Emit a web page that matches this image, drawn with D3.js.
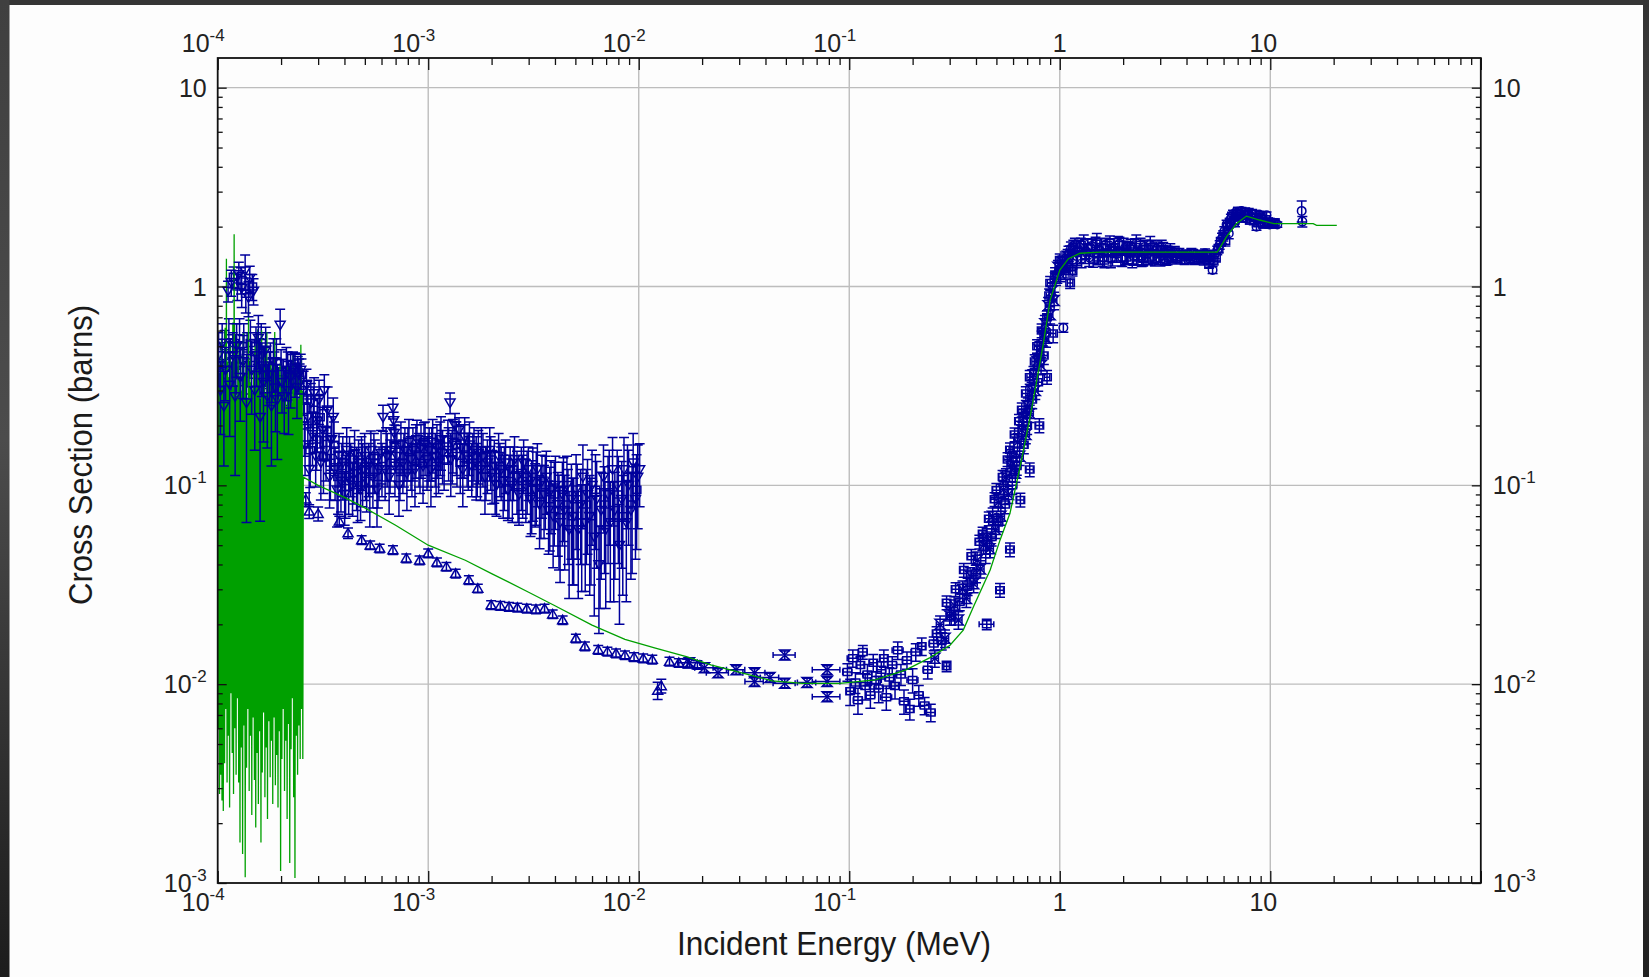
<!DOCTYPE html>
<html>
<head>
<meta charset="utf-8">
<script src="https://cdn.jsdelivr.net/npm/d3@7"></script>
<style>
  html, body { margin: 0; padding: 0; background: #fdfdfd; }
  svg { display: block; }
  text { font-family: "Liberation Sans", Arial, Helvetica, sans-serif; }
</style>
</head>
<body>
<svg id="chart" width="1649" height="977"></svg>
<script>
// ---------------------------------------------------------------
// Axis ticks and labels
// ---------------------------------------------------------------
const xTickValues = [1e-4, 1e-3, 1e-2, 1e-1, 1, 10];
const xTickBase   = ["10", "10", "10", "10", "1", "10"];
const xTickExp    = ["-4", "-3", "-2", "-1", "", ""];
const yTickValues = [1e-3, 1e-2, 1e-1, 1, 10];
const yTickBase   = ["10", "10", "10", "1", "10"];
const yTickExp    = ["-3", "-2", "-1", "", ""];
const xGridValues = [1e-3, 1e-2, 1e-1, 1, 10];
const yGridValues = [1e-2, 1e-1, 1, 10];

// ---------------------------------------------------------------
// Evaluated cross section (green curve)
// resolved resonance region: [energy (keV), cross section (b)]
// ---------------------------------------------------------------
const resonanceRows = [
  [0.1000,0.32],[0.1006,0.006],[0.1013,0.45],[0.1020,0.0028],[0.1027,0.28],[0.1034,0.0035],
  [0.1041,0.55],[0.1048,0.0026],[0.1056,0.38],[0.1063,0.0023],[0.1070,0.30],[0.1078,0.004],
  [0.1085,0.62],[0.1093,0.0075],[0.1100,1.38],[0.1108,0.0032],[0.1116,0.42],[0.1124,0.0055],
  [0.1131,0.35],[0.1139,0.0024],[0.1147,0.50],[0.1155,0.009],[0.1164,0.30],[0.1172,0.0045],
  [0.1180,0.66],[0.1189,0.0028],[0.1197,1.83],[0.1206,0.006],[0.1214,0.40],[0.1223,0.0035],
  [0.1232,0.28],[0.1241,0.0085],[0.1249,0.52],[0.1258,0.0032],[0.1267,0.34],[0.1276,0.0016],
  [0.1286,0.45],[0.1295,0.0048],[0.1304,0.30],[0.1313,0.0014],[0.1323,0.58],[0.1332,0.0062],
  [0.1342,0.36],[0.1351,0.00107],[0.1361,0.42],[0.1371,0.0038],[0.1381,0.27],[0.1391,0.0075],
  [0.1401,0.79],[0.1411,0.0029],[0.1421,0.33],[0.1431,0.0055],[0.1441,0.45],[0.1452,0.0022],
  [0.1462,0.29],[0.1473,0.0068],[0.1483,0.38],[0.1494,0.0033],[0.1505,0.50],[0.1516,0.0019],
  [0.1526,0.31],[0.1537,0.0045],[0.1549,0.61],[0.1560,0.0025],[0.1571,0.36],[0.1582,0.0058],
  [0.1594,0.27],[0.1605,0.0016],[0.1617,0.60],[0.1628,0.0036],[0.1640,0.33],[0.1652,0.0072],
  [0.1664,0.44],[0.1676,0.0027],[0.1688,0.29],[0.1700,0.0048],[0.1712,0.59],[0.1724,0.0021],
  [0.1737,0.35],[0.1749,0.0065],[0.1762,0.30],[0.1775,0.0034],[0.1787,0.41],[0.1800,0.0052],
  [0.1813,0.26],[0.1826,0.0025],[0.1839,0.38],[0.1852,0.0068],[0.1866,0.59],[0.1879,0.0031],
  [0.1893,0.30],[0.1906,0.0044],[0.1920,0.34],[0.1934,0.0024],[0.1948,0.27],[0.1962,0.0058],
  [0.1976,0.41],[0.1990,0.00115],[0.2004,0.31],[0.2018,0.0042],[0.2033,0.36],[0.2047,0.0075],
  [0.2062,0.28],[0.2077,0.0029],[0.2092,0.33],[0.2107,0.0052],[0.2122,0.25],[0.2137,0.0021],
  [0.2152,0.40],[0.2168,0.0063],[0.2183,0.30],[0.2199,0.00126],[0.2215,0.37],[0.2231,0.0047],
  [0.2247,0.26],[0.2263,0.0085],[0.2279,0.45],[0.2295,0.0027],[0.2312,0.32],[0.2328,0.00106],
  [0.2345,0.29],[0.2362,0.0055],[0.2379,0.38],[0.2396,0.0035],[0.2413,0.27],[0.2430,0.0062],
  [0.2448,0.34],[0.2465,0.0042],[0.2483,0.51],[0.2501,0.0075],[0.2519,0.30],[0.2537,0.0042]
];
// unresolved / fast region: [energy (MeV), cross section (b)]
const smoothRows = [
  [2.55e-4,0.11],[3.0e-4,0.10],[4.0e-4,0.087],[5.0e-4,0.077],[7.0e-4,0.063],[1.0e-3,0.050],
  [1.5e-3,0.042],[2.0e-3,0.036],[3.0e-3,0.029],[4.0e-3,0.0248],[6.0e-3,0.0198],[8.6e-3,0.0168],
  [1.2e-2,0.0152],[1.7e-2,0.0137],[2.2e-2,0.0125],[2.9e-2,0.0116],[3.5e-2,0.0110],[4.3e-2,0.0104],
  [6.0e-2,0.0101],[9.0e-2,0.0101],[0.133,0.0105],[0.186,0.0118],[0.242,0.0136],[0.301,0.0157],
  [0.348,0.0187],[0.389,0.0245],[0.467,0.0375],[0.52,0.053],[0.58,0.0723],[0.648,0.124],
  [0.723,0.221],[0.778,0.338],[0.836,0.517],[0.90,0.855],[1.0,1.21],[1.1,1.38],[1.25,1.47],
  [1.55,1.49],[3.7,1.49],[5.6,1.49],[6.2,1.78],[6.9,2.07],[7.7,2.26],[8.9,2.16],[10.4,2.07],
  [16.0,2.07],[16.6,2.03],[20.7,2.03]
];

// ---------------------------------------------------------------
// Measurements: [energy (MeV), cross section (b), rel. unc. σ, (rel. half-width E)]
// ---------------------------------------------------------------
const resonanceMeasA = [
  [1.01e-4,0.45,.30],[1.03e-4,0.30,.40],[1.05e-4,0.52,.25],[1.07e-4,0.25,.50],[1.09e-4,0.38,.30],
  [1.12e-4,0.95,.12],[1.14e-4,0.32,.45],[1.16e-4,1.05,.15],[1.18e-4,0.45,.30],[1.21e-4,0.28,.60],
  [1.23e-4,0.50,.30],[1.26e-4,1.15,.15],[1.28e-4,0.35,.40],[1.30e-4,0.98,.20],[1.32e-4,0.42,.35],
  [1.35e-4,1.20,.20],[1.37e-4,0.26,.75],[1.40e-4,0.88,.20],[1.42e-4,1.10,.15],[1.45e-4,0.38,.40],
  [1.48e-4,0.95,.15],[1.50e-4,0.30,.50],[1.53e-4,0.45,.30],[1.56e-4,0.55,.30],[1.59e-4,0.22,.70],
  [1.62e-4,0.40,.30],[1.65e-4,0.33,.50],[1.69e-4,0.48,.30],[1.72e-4,0.28,.45],[1.76e-4,0.36,.30],
  [1.80e-4,0.25,.50],[1.84e-4,0.42,.30],[1.88e-4,0.31,.40],[1.92e-4,0.27,.50],[1.98e-4,0.64,.20],
  [2.02e-4,0.33,.30],[2.07e-4,0.28,.35],[2.12e-4,0.38,.30],[2.17e-4,0.30,.40],[2.22e-4,0.35,.30],
  [2.28e-4,0.39,.20],[2.33e-4,0.37,.25],[2.38e-4,0.31,.30],[2.43e-4,0.36,.20],[2.48e-4,0.38,.20]
];
const resonanceMeasB = [
  [1.02e-4,0.28,.30],[1.04e-4,0.40,.25],[1.06e-4,0.33,.30],[1.08e-4,0.50,.20],[1.10e-4,0.36,.30],
  [1.13e-4,0.55,.25],[1.15e-4,0.42,.30],[1.17e-4,0.30,.30],[1.19e-4,1.12,.12],[1.20e-4,0.52,.25],
  [1.22e-4,0.40,.30],[1.24e-4,1.00,.15],[1.25e-4,0.33,.35],[1.27e-4,0.55,.25],[1.29e-4,1.08,.15],
  [1.31e-4,0.38,.30],[1.33e-4,0.50,.30],[1.36e-4,0.92,.20],[1.38e-4,0.45,.30],[1.41e-4,0.30,.40],
  [1.43e-4,0.52,.30],[1.46e-4,1.00,.15],[1.49e-4,0.36,.30],[1.52e-4,0.50,.25],[1.55e-4,0.30,.35],
  [1.58e-4,0.42,.30],[1.61e-4,0.52,.25],[1.64e-4,0.28,.35],[1.67e-4,0.38,.30],[1.70e-4,0.45,.30],
  [1.74e-4,0.32,.30],[1.78e-4,0.40,.30],[1.82e-4,0.30,.35],[1.86e-4,0.36,.30],[1.90e-4,0.42,.30],
  [1.95e-4,0.30,.30],[2.00e-4,0.37,.30],[2.05e-4,0.33,.30],[2.10e-4,0.30,.30],[2.15e-4,0.36,.30],
  [2.20e-4,0.28,.30],[2.25e-4,0.34,.25],[2.30e-4,0.38,.20],[2.35e-4,0.33,.25],[2.40e-4,0.37,.20],
  [2.45e-4,0.34,.20],[2.50e-4,0.36,.20]
];

const cloudMeasA = [
  [2.56e-4,0.30,.25],[2.60e-4,0.16,.30],[2.64e-4,0.32,.20],[2.68e-4,0.22,.30],[2.72e-4,0.12,.35],
  [2.77e-4,0.26,.25],[2.82e-4,0.18,.30],[2.87e-4,0.29,.20],[2.92e-4,0.14,.30],[2.97e-4,0.21,.30],
  [3.03e-4,0.27,.25],[3.09e-4,0.13,.35],[3.15e-4,0.19,.30],[3.21e-4,0.30,.20],[3.27e-4,0.15,.30],
  [3.33e-4,0.24,.30],[3.40e-4,0.11,.30],[3.47e-4,0.17,.30],[3.54e-4,0.22,.25],
  [3.61e-4,0.12,.30],[3.69e-4,0.095,.35],[3.77e-4,0.14,.30],[3.85e-4,0.105,.30],[3.93e-4,0.13,.35],
  [4.01e-4,0.09,.30],[4.10e-4,0.15,.30],[4.19e-4,0.11,.35],[4.28e-4,0.125,.30],[4.37e-4,0.10,.30],
  [4.47e-4,0.145,.30],[4.57e-4,0.115,.35],[4.67e-4,0.13,.30],[4.77e-4,0.095,.30],[4.88e-4,0.12,.35],
  [4.99e-4,0.14,.30],[5.10e-4,0.105,.30],[5.22e-4,0.125,.30],[5.34e-4,0.15,.25],[5.46e-4,0.11,.30],
  [5.58e-4,0.13,.30],[5.71e-4,0.095,.35],[5.84e-4,0.12,.30],[5.97e-4,0.145,.30],
  [6.10e-4,0.22,.15],[6.24e-4,0.12,.30],[6.38e-4,0.14,.30],[6.52e-4,0.11,.35],[6.66e-4,0.15,.30],
  [6.80e-4,0.245,.12],[6.85e-4,0.212,.10],[6.90e-4,0.183,.10],[6.95e-4,0.125,.30],[7.10e-4,0.14,.30],
  [7.26e-4,0.10,.30],[7.42e-4,0.16,.30],[7.58e-4,0.13,.30],[7.75e-4,0.15,.30],[7.92e-4,0.115,.35],
  [8.10e-4,0.165,.30],[8.28e-4,0.135,.30],[8.46e-4,0.15,.30],[8.65e-4,0.12,.35],[8.84e-4,0.17,.25],
  [9.04e-4,0.14,.30],[9.24e-4,0.155,.30],[9.45e-4,0.125,.35],[9.66e-4,0.16,.30],[9.87e-4,0.135,.30],
  [1.01e-3,0.15,.30],[1.03e-3,0.12,.35],[1.05e-3,0.165,.30],[1.08e-3,0.14,.30],[1.10e-3,0.155,.30],
  [1.12e-3,0.13,.30],[1.15e-3,0.17,.30],[1.17e-3,0.145,.30],[1.27e-3,0.26,.12],[1.25e-3,0.15,.30],
  [1.28e-3,0.135,.35],[1.31e-3,0.165,.30],[1.34e-3,0.20,.15],[1.37e-3,0.14,.30],[1.40e-3,0.19,.15],
  [1.43e-3,0.155,.30],[1.46e-3,0.12,.35],[1.49e-3,0.175,.25],
  [1.53e-3,0.14,.30],[1.57e-3,0.16,.30],[1.61e-3,0.125,.30],[1.65e-3,0.15,.30],[1.69e-3,0.13,.35],
  [1.73e-3,0.145,.30],[1.77e-3,0.12,.30],[1.82e-3,0.14,.30],[1.86e-3,0.11,.35],[1.91e-3,0.13,.30],
  [1.96e-3,0.15,.30],[2.01e-3,0.115,.30],[2.06e-3,0.125,.35],[2.11e-3,0.10,.30],[2.16e-3,0.14,.30],
  [2.22e-3,0.12,.30],[2.27e-3,0.105,.35],[2.33e-3,0.13,.30],[2.39e-3,0.095,.30],[2.45e-3,0.12,.30],
  [2.51e-3,0.10,.35],[2.57e-3,0.135,.30],[2.64e-3,0.11,.35],[2.70e-3,0.09,.30],[2.77e-3,0.115,.35],
  [2.84e-3,0.13,.30],[2.91e-3,0.10,.35],[2.99e-3,0.12,.30],[3.06e-3,0.085,.35],[3.14e-3,0.11,.40],
  [3.22e-3,0.095,.35],[3.30e-3,0.12,.35],[3.38e-3,0.08,.40],[3.47e-3,0.105,.35],[3.55e-3,0.09,.40],
  [3.64e-3,0.11,.35],[3.73e-3,0.075,.40],
  [3.83e-3,0.095,.40],[3.92e-3,0.07,.45],[4.02e-3,0.10,.40],[4.13e-3,0.08,.45],[4.23e-3,0.065,.50],
  [4.34e-3,0.09,.45],[4.45e-3,0.075,.50],[4.56e-3,0.10,.40],[4.67e-3,0.06,.55],[4.79e-3,0.085,.50],
  [4.91e-3,0.07,.55],[5.04e-3,0.095,.50],[5.16e-3,0.06,.55],[5.30e-3,0.08,.50],[5.43e-3,0.11,.45],
  [5.57e-3,0.065,.55],[5.71e-3,0.09,.50],[5.85e-3,0.07,.60],[6.00e-3,0.10,.50],[6.15e-3,0.055,.60],
  [6.31e-3,0.085,.55],[6.47e-3,0.04,.55],[6.63e-3,0.075,.55],[6.80e-3,0.11,.45],[6.97e-3,0.06,.60],
  [7.15e-3,0.09,.55],[7.33e-3,0.065,.60],[7.51e-3,0.12,.45],[7.70e-3,0.075,.55],[7.90e-3,0.10,.50],
  [8.10e-3,0.05,.60],[8.30e-3,0.085,.55],[8.51e-3,0.12,.45],[8.73e-3,0.065,.60],[8.95e-3,0.10,.50],
  [9.18e-3,0.075,.55],[9.41e-3,0.13,.40],[9.65e-3,0.085,.50],[9.89e-3,0.11,.45],[1.01e-2,0.12,.35]
];
const cloudMeasB = [
  [2.58e-4,0.20,.30],[2.66e-4,0.27,.25],[2.75e-4,0.15,.35],[2.85e-4,0.24,.30],[2.95e-4,0.17,.30],
  [3.06e-4,0.22,.30],[3.18e-4,0.14,.35],[3.30e-4,0.19,.30],[3.43e-4,0.13,.35],[3.57e-4,0.16,.30],
  [3.73e-4,0.11,.35],[3.89e-4,0.125,.30],[4.05e-4,0.105,.35],[4.23e-4,0.135,.30],[4.42e-4,0.115,.30],
  [4.62e-4,0.10,.35],[4.82e-4,0.135,.30],[5.04e-4,0.12,.30],[5.28e-4,0.095,.35],[5.52e-4,0.14,.30],
  [5.77e-4,0.11,.30],[6.03e-4,0.125,.30],[6.31e-4,0.15,.30],[6.59e-4,0.13,.30],[7.02e-4,0.16,.25],
  [7.34e-4,0.12,.30],[7.67e-4,0.14,.30],[8.01e-4,0.15,.30],[8.37e-4,0.125,.30],[8.74e-4,0.155,.30],
  [9.14e-4,0.13,.30],[9.55e-4,0.165,.25],[9.98e-4,0.14,.30],[1.04e-3,0.15,.30],[1.09e-3,0.125,.30],
  [1.14e-3,0.16,.30],[1.19e-3,0.135,.30],[1.24e-3,0.17,.25],[1.30e-3,0.145,.30],[1.36e-3,0.16,.30],
  [1.42e-3,0.13,.30],[1.48e-3,0.155,.30],[1.55e-3,0.135,.30],[1.63e-3,0.14,.30],[1.71e-3,0.125,.30],
  [1.79e-3,0.15,.30],[1.88e-3,0.12,.30],[1.98e-3,0.135,.30],[2.08e-3,0.11,.35],[2.19e-3,0.125,.30],
  [2.30e-3,0.115,.35],[2.42e-3,0.105,.35],[2.54e-3,0.12,.30],[2.67e-3,0.10,.35],[2.81e-3,0.105,.35],
  [2.95e-3,0.11,.35],[3.10e-3,0.095,.40],[3.26e-3,0.105,.40],[3.43e-3,0.09,.40],[3.60e-3,0.10,.40],
  [3.78e-3,0.085,.45],[3.97e-3,0.09,.45],[4.18e-3,0.075,.50],[4.39e-3,0.095,.45],[4.61e-3,0.08,.50],
  [4.85e-3,0.07,.55],[5.10e-3,0.085,.50],[5.36e-3,0.065,.55],[5.64e-3,0.08,.50],[5.93e-3,0.07,.55],
  [6.23e-3,0.095,.50],[6.55e-3,0.06,.60],[6.88e-3,0.08,.55],[7.24e-3,0.10,.50],[7.61e-3,0.065,.60],
  [8.00e-3,0.09,.55],[8.40e-3,0.07,.60],[8.84e-3,0.11,.45],[9.30e-3,0.08,.55],[9.77e-3,0.095,.50]
];

const lowMeas = [
  [2.62e-4,0.085,.08],[2.72e-4,0.074,.08],[3.0e-4,0.072,.08],[3.78e-4,0.066,.06],[4.16e-4,0.0575,.06],
  [4.83e-4,0.0531,.05],[5.3e-4,0.050,.05],[5.88e-4,0.0482,.05],[6.8e-4,0.0473,.05],[7.87e-4,0.043,.05],
  [9.1e-4,0.042,.05],[1.0e-3,0.0455,.05],[1.1e-3,0.041,.05],[1.22e-3,0.039,.05],[1.35e-3,0.036,.05],
  [1.56e-3,0.0334,.05],[1.72e-3,0.0303,.05],[1.99e-3,0.025,.05],[2.2e-3,0.0248,.05],[2.42e-3,0.0245,.05],
  [2.65e-3,0.0243,.05],[2.94e-3,0.024,.05],[3.25e-3,0.0238,.05],[3.57e-3,0.024,.05],[3.9e-3,0.0225,.05],
  [4.35e-3,0.021,.05],[5.03e-3,0.017,.05],[5.55e-3,0.0155,.05],[6.42e-3,0.0149,.05],[7.1e-3,0.0146,.05],
  [7.8e-3,0.0143,.05],[8.6e-3,0.014,.05],[9.5e-3,0.0137,.05],[1.05e-2,0.0135,.05],[1.16e-2,0.0133,.05],
  [1.23e-2,0.0093,.10],[1.28e-2,0.0098,.08],[1.4e-2,0.013,.05],[1.55e-2,0.0128,.05],[1.7e-2,0.0127,.05],
  [1.9e-2,0.0125,.05]
];

const minMeas = [
  [0.0174,0.0128,.05,.12],[0.0205,0.0121,.05,.10],[0.0238,0.0114,.05,.12],[0.029,0.0118,.05,.10],
  [0.0355,0.0114,.05,.12],[0.0355,0.0103,.05,.10],[0.042,0.0108,.05,.10],[0.0494,0.0140,.05,.12],
  [0.0494,0.0101,.05,.12],[0.063,0.0102,.05,.10],[0.0785,0.0118,.05,.15],[0.0785,0.0103,.05,.15],
  [0.0785,0.00865,.05,.15]
];

const riseMeasA = [
  [0.098,0.0115,.10,.05],[0.101,0.0092,.15,.04],[0.104,0.0135,.10,.06],[0.107,0.0102,.12,.05],
  [0.110,0.0083,.15,.05],[0.113,0.0125,.10,.04],[0.116,0.0145,.08,.05],[0.119,0.0098,.15,.06],
  [0.122,0.0112,.12,.05],[0.126,0.0088,.14,.05],[0.130,0.0128,.10,.04],[0.134,0.0105,.10,.06],
  [0.138,0.0095,.15,.05],[0.142,0.0118,.10,.05],[0.146,0.0135,.10,.04],[0.150,0.0086,.14,.06],
  [0.155,0.0108,.12,.05],[0.160,0.0125,.10,.05],[0.165,0.0098,.14,.04],[0.170,0.0148,.10,.06],
  [0.176,0.0112,.12,.05],[0.182,0.0082,.14,.05],[0.188,0.0132,.10,.05],[0.194,0.0075,.12,.04],
  [0.200,0.0105,.14,.06],[0.207,0.0145,.10,.05],[0.214,0.0088,.12,.05],[0.221,0.0155,.10,.04],
  [0.228,0.0078,.10,.05],[0.236,0.0118,.10,.05],[0.244,0.0072,.10,.05],[0.252,0.0160,.08,.05],
  [0.26,0.018,.08,.04],[0.275,0.0165,.10,.05],[0.29,0.0123,.06,.03],[0.29,0.0257,.08,.04],
  [0.305,0.022,.10,.05],[0.32,0.030,.08,.04],[0.335,0.026,.10,.05],[0.35,0.0375,.08,.04],
  [0.365,0.031,.10,.05],[0.38,0.044,.08,.04],[0.40,0.036,.10,.05],[0.415,0.052,.08,.04],
  [0.43,0.057,.08,.04],[0.45,0.020,.06,.08],[0.445,0.045,.10,.05],[0.46,0.068,.08,.04],
  [0.475,0.055,.10,.05],[0.49,0.085,.08,.04],[0.50,0.0945,.08,.04],[0.51,0.065,.10,.05],
  [0.52,0.0297,.08,.04],[0.535,0.11,.08,.04],[0.55,0.08,.10,.05],[0.565,0.135,.08,.04],
  [0.58,0.151,.08,.04],[0.58,0.0475,.08,.04],[0.595,0.10,.10,.05],[0.61,0.18,.08,.04],
  [0.625,0.125,.10,.04],[0.64,0.21,.08,.04],[0.65,0.0845,.08,.04],[0.66,0.24,.08,.04],
  [0.675,0.16,.10,.04],[0.69,0.29,.08,.04],[0.70,0.20,.10,.04],[0.72,0.35,.08,.03],
  [0.72,0.12,.08,.04],[0.74,0.27,.10,.04],[0.76,0.42,.08,.03],[0.78,0.50,.08,.03],
  [0.79,0.33,.10,.04],[0.80,0.20,.08,.04],[0.82,0.60,.08,.03],[0.84,0.45,.10,.04],
  [0.87,0.70,.08,.03],[0.87,0.35,.08,.03],[0.89,0.90,.08,.03],[0.90,1.04,.08,.03],
  [0.93,0.58,.10,.03],[0.95,1.15,.08,.03],[1.0,1.36,.07,.03],[1.07,1.20,.08,.03],
  [1.12,1.04,.06,.03],[1.15,1.20,.06,.03]
];
const riseMeasB = [
  [0.255,0.0135,.10,.04],[0.27,0.020,.10,.04],[0.285,0.017,.10,.04],[0.30,0.022,.10,.04],
  [0.315,0.025,.10,.04],[0.33,0.021,.10,.04],[0.345,0.030,.10,.04],[0.36,0.027,.10,.04],
  [0.375,0.035,.10,.04],[0.39,0.032,.10,.04],[0.405,0.042,.10,.04],[0.42,0.038,.10,.04],
  [0.435,0.050,.10,.04],[0.45,0.055,.10,.04],[0.465,0.048,.10,.04],[0.48,0.070,.10,.04],
  [0.495,0.060,.10,.04],[0.51,0.082,.10,.04],[0.525,0.070,.10,.04],[0.54,0.095,.10,.04],
  [0.555,0.11,.10,.04],[0.57,0.09,.10,.04],[0.585,0.125,.10,.04],[0.60,0.14,.10,.04],
  [0.615,0.115,.10,.04],[0.63,0.165,.10,.04],[0.645,0.14,.10,.04],[0.66,0.19,.10,.04],
  [0.675,0.22,.10,.04],[0.69,0.18,.10,.04],[0.705,0.25,.10,.04],[0.72,0.23,.10,.04],
  [0.735,0.30,.10,.04],[0.75,0.36,.10,.03],[0.765,0.30,.10,.03],[0.78,0.42,.10,.03],
  [0.80,0.48,.10,.03],[0.815,0.40,.10,.03],[0.83,0.56,.10,.03],[0.85,0.65,.10,.03],
  [0.86,0.55,.10,.03],[0.88,0.80,.10,.03],[0.90,0.72,.10,.03],[0.92,0.95,.10,.03],
  [0.94,0.85,.10,.03],[0.96,1.10,.08,.03],[0.98,1.25,.08,.03],[1.01,1.15,.08,.03],
  [1.03,1.32,.08,.03],[1.05,1.25,.08,.03],[1.09,1.42,.08,.03]
];

const plateauMeasA = [
  [1.02,1.25,.06],[1.04,0.62,.05],[1.06,1.38,.08],[1.08,1.30,.08],[1.10,1.45,.10],[1.13,1.55,.08],
  [1.15,1.36,.10],[1.18,1.62,.08],[1.21,1.42,.10],[1.24,1.58,.08],[1.27,1.38,.10],[1.30,1.65,.10],
  [1.34,1.50,.08],[1.38,1.40,.10],[1.42,1.60,.08],[1.46,1.46,.10],[1.50,1.68,.10],[1.55,1.52,.08],
  [1.60,1.40,.10],[1.65,1.62,.08],[1.70,1.48,.10],[1.75,1.38,.10],[1.80,1.58,.10],[1.86,1.46,.08],
  [1.92,1.64,.08],[1.98,1.40,.10],[2.04,1.56,.08],[2.10,1.48,.12],[2.17,1.60,.08],[2.24,1.42,.10],
  [2.31,1.65,.10],[2.38,1.48,.08],[2.45,1.40,.10],[2.53,1.58,.08],[2.61,1.46,.10],[2.69,1.62,.10],
  [2.78,1.42,.08],[2.87,1.55,.08],[2.96,1.40,.08],[3.05,1.58,.08],[3.15,1.48,.08],[3.25,1.40,.08],
  [3.35,1.52,.08],[3.46,1.43,.06],[3.57,1.38,.06],[3.70,1.48,.05],[3.85,1.42,.05],[4.00,1.45,.05],
  [4.15,1.38,.05],[4.30,1.46,.05],[4.45,1.40,.05],[4.60,1.44,.05],[4.75,1.38,.05],[4.90,1.47,.05],
  [5.05,1.41,.05],[5.20,1.36,.05],[5.32,1.21,.04],[5.45,1.45,.05],[5.60,1.52,.05],[5.75,1.62,.05],
  [5.90,1.75,.06],[6.05,1.90,.05],[6.20,2.05,.05],[6.35,1.85,.06],[6.50,2.20,.05],[6.65,2.30,.05],
  [6.80,2.10,.05],[6.95,2.35,.04],[7.10,2.25,.05],[7.30,2.40,.04],[7.50,2.30,.05],[7.70,2.20,.04],
  [7.90,2.35,.05],[8.10,2.25,.04],[8.35,2.15,.05],[8.60,2.00,.04],[8.85,2.30,.04],[9.10,2.20,.04],
  [9.40,2.10,.05],[9.60,2.28,.04],[9.90,2.05,.04],[10.3,2.10,.04],[10.8,2.05,.03]
];
const plateauMeasB = [
  [1.12,1.48,.08],[1.16,1.58,.08],[1.20,1.36,.08],[1.26,1.62,.08],[1.32,1.42,.08],[1.36,1.58,.10],
  [1.44,1.36,.08],[1.48,1.64,.08],[1.53,1.40,.08],[1.58,1.58,.10],[1.63,1.35,.08],[1.68,1.56,.08],
  [1.73,1.66,.08],[1.78,1.38,.08],[1.83,1.52,.08],[1.89,1.62,.10],[1.95,1.38,.08],[2.01,1.62,.08],
  [2.07,1.40,.08],[2.14,1.55,.08],[2.21,1.35,.08],[2.28,1.58,.10],[2.35,1.40,.08],[2.42,1.62,.08],
  [2.49,1.38,.08],[2.57,1.55,.10],[2.65,1.40,.08],[2.74,1.58,.08],[2.83,1.38,.08],[2.92,1.52,.08],
  [3.01,1.38,.08],[3.10,1.54,.08],[3.20,1.36,.06],[3.30,1.48,.06],[3.41,1.40,.06],[3.52,1.50,.06],
  [3.63,1.38,.05],[3.78,1.45,.05],[3.92,1.36,.05],[4.08,1.42,.05],[4.22,1.48,.05],[4.38,1.36,.05],
  [4.53,1.45,.05],[4.68,1.40,.05],[4.83,1.35,.05],[4.98,1.44,.05],[5.12,1.30,.05],[5.38,1.35,.05],
  [5.52,1.40,.05],[5.68,1.55,.05],[5.82,1.68,.05],[5.98,1.80,.06],[6.12,1.70,.06],[6.28,2.00,.05],
  [6.42,2.10,.05],[6.58,2.25,.05],[6.72,2.15,.05],[6.88,2.30,.05],[7.02,2.40,.04],[7.20,2.30,.05],
  [7.40,2.20,.04],[7.60,2.38,.04],[7.80,2.28,.05],[8.00,2.15,.04],[8.20,2.32,.05],[8.50,2.22,.04],
  [8.75,2.10,.05],[9.00,2.25,.04],[9.25,2.05,.04],[9.50,2.18,.04],[9.75,2.12,.04],[10.1,2.05,.04],
  [10.5,2.10,.04]
];

const highMeas = [[14.1,2.40,.12],[14.2,2.12,.06]];

// ---------------------------------------------------------------
// Layout and scales
// ---------------------------------------------------------------
const W = 1649, H = 977;
const plot = { left: 217.7, right: 1480.8, top: 58, bottom: 883 };
const BLUE = "#00009c", GREEN = "#00a000", INK = "#222";

const x = d3.scaleLog().domain([1e-4, 1e2]).range([plot.left, plot.right]);
const y = d3.scaleLog().domain([1e-3, 14.1]).range([plot.bottom, plot.top]);

const svg = d3.select("#chart");
const defs = svg.append("defs");

// page background with the dark edge strips
function edgeGradient(id, stops) {
  const g = defs.append("linearGradient").attr("id", id)
    .attr("x1", 0).attr("y1", 0).attr("x2", 0).attr("y2", 1);
  stops.forEach(([o, c]) => g.append("stop").attr("offset", o).attr("stop-color", c));
}
edgeGradient("edgeL", [[0, "#404040"], [0.45, "#4c4c4c"], [1, "#1c1c1c"]]);
edgeGradient("edgeR", [[0, "#333"], [0.45, "#5a5a5a"], [1, "#202020"]]);

svg.append("rect").attr("width", W).attr("height", H).attr("fill", "#fdfdfd");
svg.append("rect").attr("x", 0).attr("y", 0).attr("width", W).attr("height", 5).attr("fill", "#353535");
svg.append("rect").attr("x", 0).attr("y", 0).attr("width", 9.5).attr("height", H).attr("fill", "url(#edgeL)");
svg.append("rect").attr("x", 1643).attr("y", 0).attr("width", 6).attr("height", H).attr("fill", "url(#edgeR)");

defs.append("clipPath").attr("id", "plotClip").append("rect")
  .attr("x", plot.left).attr("y", plot.top)
  .attr("width", plot.right - plot.left).attr("height", plot.bottom - plot.top);

// grid
const grid = svg.append("g").attr("stroke", "#bdbdbd").attr("stroke-width", 1.4);
grid.selectAll("line.gx").data(xGridValues).join("line").attr("class", "gx")
  .attr("x1", d => x(d)).attr("x2", d => x(d)).attr("y1", plot.top).attr("y2", plot.bottom);
grid.selectAll("line.gy").data(yGridValues).join("line").attr("class", "gy")
  .attr("y1", d => y(d)).attr("y2", d => y(d)).attr("x1", plot.left).attr("x2", plot.right);

const data = svg.append("g").attr("clip-path", "url(#plotClip)");

// ---------------------------------------------------------------
// Markers and error bars
// ---------------------------------------------------------------
const S = 5;
function markerPath(kind, cx, cy) {
  switch (kind) {
    case "tdown":
      return `M${cx - S},${cy - S * 0.75}L${cx + S},${cy - S * 0.75}L${cx},${cy + S * 0.95}Z`;
    case "tup":
      return `M${cx - S},${cy + S * 0.75}L${cx + S},${cy + S * 0.75}L${cx},${cy - S * 0.95}Z`;
    case "square":
      return `M${cx - S * 0.85},${cy - S * 0.7}h${S * 1.7}v${S * 1.4}h${-S * 1.7}Z`;
    case "hour":
      return `M${cx - S},${cy - S}L${cx + S},${cy - S}L${cx - S},${cy + S}L${cx + S},${cy + S}Z`;
    case "circle": {
      const r = S * 0.85;
      return `M${cx - r},${cy}a${r},${r} 0 1,0 ${2 * r},0a${r},${r} 0 1,0 ${-2 * r},0`;
    }
  }
  return "";
}

function errorPath(row) {
  const [e, s, err, dx] = row;
  const cx = x(e), cy = y(s);
  const lo = y(s * (1 - err)), hi = y(s * (1 + err));
  let p = `M${cx},${lo}V${hi}M${cx - S},${hi}h${2 * S}M${cx - S},${lo}h${2 * S}`;
  if (dx) {
    const xl = x(e * (1 - dx)), xr = x(e * (1 + dx));
    p += `M${xl},${cy}H${xr}M${xl},${cy - 3}v6M${xr},${cy - 3}v6`;
  }
  return p;
}

function drawSet(rows, kind) {
  const g = data.append("g").attr("fill", "none").attr("stroke", BLUE).attr("stroke-width", 1.5);
  g.append("path").attr("d", rows.map(errorPath).join(""));
  g.append("path").attr("d", rows.map(r => markerPath(kind, x(r[0]), y(r[1]))).join(""));
}

drawSet(cloudMeasB, "square");
drawSet(cloudMeasA, "tdown");
drawSet(lowMeas, "tup");
drawSet(minMeas, "hour");
drawSet(riseMeasA, "square");
drawSet(riseMeasB, "hour");
drawSet(plateauMeasB, "square");
drawSet(plateauMeasA, "circle");
drawSet(highMeas, "circle");
drawSet(resonanceMeasB, "square");

// evaluated curve
const evalPoints = resonanceRows.map(([eKeV, s]) => [eKeV / 1000, s]).concat(smoothRows);
const line = d3.line().x(d => x(d[0])).y(d => y(d[1]));
data.append("path").datum(evalPoints).attr("d", line)
  .attr("fill", "none").attr("stroke", GREEN).attr("stroke-width", 1.3);

drawSet(resonanceMeasA, "tdown");

// ---------------------------------------------------------------
// Axes (ticks pointing inward) and frame
// ---------------------------------------------------------------
const minorX = [], minorY = [];
for (let d = -4; d < 2; d++) for (let m = 2; m < 10; m++) minorX.push(m * Math.pow(10, d));
for (let d = -3; d < 2; d++) for (let m = 2; m < 10; m++) if (m * Math.pow(10, d) < 14.1) minorY.push(m * Math.pow(10, d));
const majorX = xTickValues.concat([1e2]);

function tickGroup(axis, tx, ty) {
  const g = svg.append("g").attr("transform", `translate(${tx},${ty})`).call(axis);
  g.select(".domain").remove();
  g.selectAll(".tick text").remove();
  g.selectAll(".tick line").attr("stroke", "#111").attr("stroke-width", 1.3);
  return g;
}
tickGroup(d3.axisTop(x).tickValues(minorX).tickSize(7), 0, plot.bottom);
tickGroup(d3.axisTop(x).tickValues(majorX).tickSize(12), 0, plot.bottom);
tickGroup(d3.axisBottom(x).tickValues(minorX).tickSize(7), 0, plot.top);
tickGroup(d3.axisBottom(x).tickValues(majorX).tickSize(12), 0, plot.top);
tickGroup(d3.axisRight(y).tickValues(minorY).tickSize(5), plot.left, 0);
tickGroup(d3.axisRight(y).tickValues(yTickValues).tickSize(9), plot.left, 0);
tickGroup(d3.axisLeft(y).tickValues(minorY).tickSize(5), plot.right, 0);
tickGroup(d3.axisLeft(y).tickValues(yTickValues).tickSize(9), plot.right, 0);

svg.append("rect").attr("x", plot.left).attr("y", plot.top)
  .attr("width", plot.right - plot.left).attr("height", plot.bottom - plot.top)
  .attr("fill", "none").attr("stroke", "#111").attr("stroke-width", 1.8);

// ---------------------------------------------------------------
// Tick labels
// ---------------------------------------------------------------
const labels = svg.append("g").attr("fill", INK);
function powLabel(base, exp, px, py, anchor) {
  const t = labels.append("text").attr("x", px).attr("y", py)
    .attr("text-anchor", anchor).attr("font-size", 25);
  t.append("tspan").text(base);
  if (exp) t.append("tspan").attr("font-size", 17).attr("dy", -11).text(exp);
}
xTickValues.forEach((v, i) => {
  powLabel(xTickBase[i], xTickExp[i], x(v) + 7, plot.top - 6.5, "end");
  powLabel(xTickBase[i], xTickExp[i], x(v) + 7, plot.bottom + 28, "end");
});
yTickValues.forEach((v, i) => {
  powLabel(yTickBase[i], yTickExp[i], plot.left - 11, y(v) + 9, "end");
  powLabel(yTickBase[i], yTickExp[i], plot.right + 12, y(v) + 9, "start");
});

// axis titles
svg.append("text").attr("x", 834).attr("y", 955).attr("text-anchor", "middle")
  .attr("font-size", 33).attr("fill", "#1a1a1a")
  .attr("textLength", 314).attr("lengthAdjust", "spacingAndGlyphs")
  .text("Incident Energy (MeV)");
svg.append("text").attr("transform", "translate(92,455) rotate(-90)").attr("text-anchor", "middle")
  .attr("font-size", 33).attr("fill", "#1a1a1a")
  .attr("textLength", 300).attr("lengthAdjust", "spacingAndGlyphs")
  .text("Cross Section (barns)");
</script>
</body>
</html>
